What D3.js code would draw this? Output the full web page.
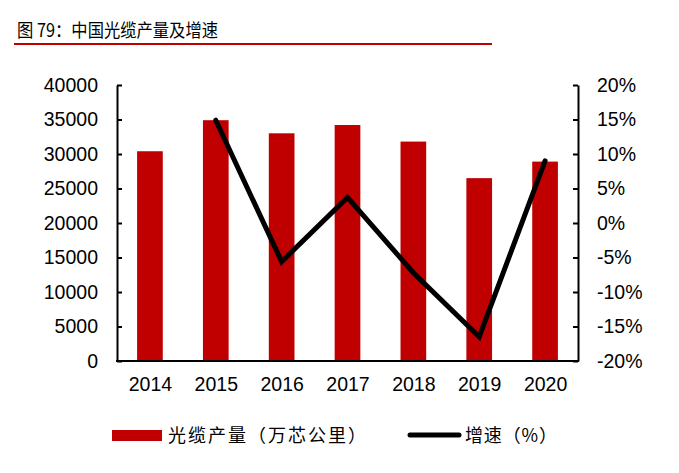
<!DOCTYPE html>
<html>
<head>
<meta charset="utf-8">
<script src="https://cdn.jsdelivr.net/npm/d3@7"></script>
<style>
  body { margin: 0; background: #fff; }
  svg { display: block; }
  .tick text { font-family: "Liberation Sans", Arial, sans-serif; font-size: 19.5px; fill: #000; }
</style>
</head>
<body>
<svg id="chart" width="679" height="473"></svg>
<script>
// chart data
var years = ['2014', '2015', '2016', '2017', '2018', '2019', '2020'];
var output = [30400, 34900, 33000, 34200, 31800, 26500, 28900];   // 万芯公里
var growth = [null, 14.9, -5.6, 3.7, -7.2, -16.5, 9.0];           // %
var leftTicks = [0, 5000, 10000, 15000, 20000, 25000, 30000, 35000, 40000];
var rightTicks = [-20, -15, -10, -5, 0, 5, 10, 15, 20];

var title = '图 79：中国光缆产量及增速';
var legendBar = '光缆产量（万芯公里）';
var legendLine = '增速（%）';

var red = '#c00000';
var plot = {'left': 117, 'right': 578, 'top': 85, 'bottom': 361};

var svg = d3.select('#chart');

// title + red rule
svg.append('text')
   .attr('x', 17).attr('y', 37)
   .attr('textLength', 201).attr('lengthAdjust', 'spacingAndGlyphs')
   .style('font-family', '"Noto Sans CJK SC", sans-serif')
   .style('font-size', '18.5px')
   .text(title);
svg.append('line')
   .attr('x1', 14).attr('x2', 492).attr('y1', 44).attr('y2', 44)
   .attr('stroke', red).attr('stroke-width', 2);

var x = d3.scaleBand().domain(years).range([plot.left, plot.right]).paddingInner(0.61).paddingOuter(0.305);
var xc = d3.scalePoint().domain(years).range([plot.left, plot.right]).padding(0.5);
var yL = d3.scaleLinear().domain([0, 40000]).range([plot.bottom, plot.top]);
var yR = d3.scaleLinear().domain([-20, 20]).range([plot.bottom, plot.top]);

// bars
svg.append('g').selectAll('rect')
   .data(output)
   .enter().append('rect')
   .attr('x', function (d, i) { return x(years[i]); })
   .attr('width', x.bandwidth())
   .attr('y', function (d) { return yL(d); })
   .attr('height', function (d) { return yL(0) - yL(d); })
   .attr('fill', red);

// growth line (starts at 2015)
var pts = [];
for (var i = 0; i < years.length; i++) {
    if (growth[i] !== null) pts.push([xc(years[i]), yR(growth[i])]);
}
svg.append('path')
   .attr('d', d3.line()(pts))
   .attr('fill', 'none')
   .attr('stroke', '#000')
   .attr('stroke-width', 5)
   .attr('stroke-linecap', 'round')
   .attr('stroke-linejoin', 'miter');

// axes
var axL = svg.append('g').attr('transform', 'translate(' + plot.left + ',0)')
   .call(d3.axisLeft(yL).tickValues(leftTicks).tickSizeInner(-5).tickSizeOuter(0).tickPadding(19)
         .tickFormat(d3.format('d')));
var axR = svg.append('g').attr('transform', 'translate(' + plot.right + ',0)')
   .call(d3.axisRight(yR).tickValues(rightTicks).tickSizeInner(-5).tickSizeOuter(0).tickPadding(19)
         .tickFormat(function (d) { return d + '%'; }));
var axB = svg.append('g').attr('transform', 'translate(0,' + plot.bottom + ')')
   .call(d3.axisBottom(xc).tickSize(0).tickPadding(16));
[axL, axR, axB].forEach(function (g) {
    g.select('.domain').attr('stroke', '#000').attr('stroke-width', 2);
    g.selectAll('.tick line').attr('stroke', '#000').attr('stroke-width', 2);
});
axB.select('.domain').attr('d', 'M' + (plot.left - 1) + ',0H' + (plot.right + 1));

// legend
var lg = svg.append('g').style('font-family', '"Noto Sans CJK SC", sans-serif').style('font-size', '18px');
lg.append('rect').attr('x', 112).attr('y', 430).attr('width', 50).attr('height', 11).attr('fill', red);
lg.append('text').attr('x', 168).attr('y', 442)
  .attr('textLength', 198).attr('lengthAdjust', 'spacing').text(legendBar);
lg.append('line').attr('x1', 410).attr('x2', 459).attr('y1', 435).attr('y2', 435)
  .attr('stroke', '#000').attr('stroke-width', 5).attr('stroke-linecap', 'round');
lg.append('text').attr('x', 465).attr('y', 442)
  .attr('textLength', 92).attr('lengthAdjust', 'spacing').text(legendLine);
</script>
</body>
</html>
